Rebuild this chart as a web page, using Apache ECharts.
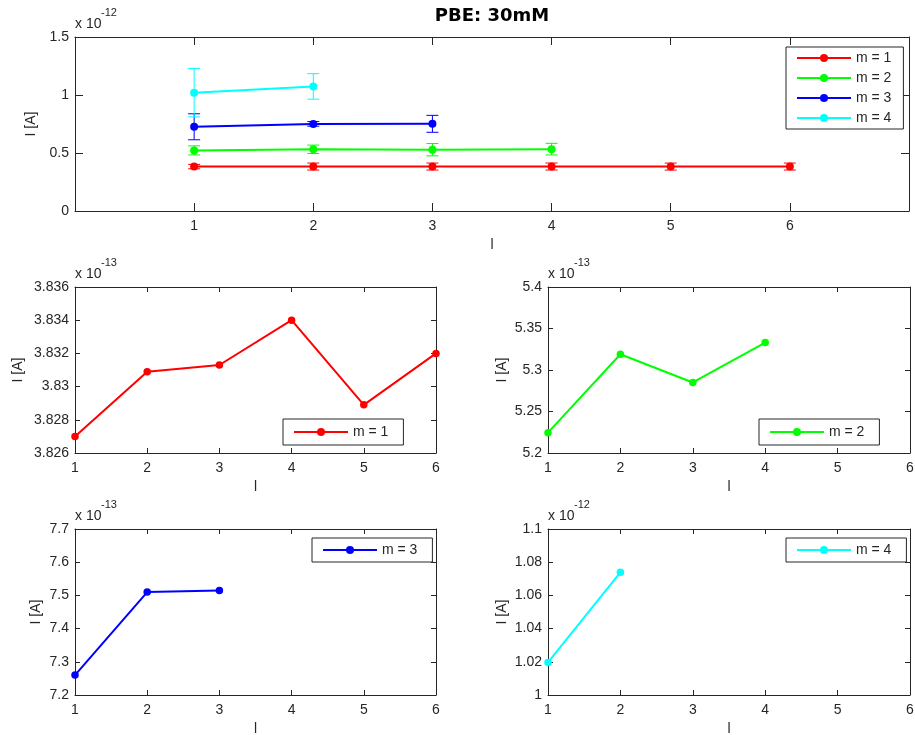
<!DOCTYPE html>
<html>
<head>
<meta charset="utf-8">
<title>PBE: 30mM</title>
<script src="https://cdn.jsdelivr.net/npm/echarts@6/dist/echarts.min.js"></script>
<style>
  html, body { margin: 0; padding: 0; background: #fff; }
  #chart { width: 915px; height: 735px; }
</style>
</head>
<body>
<div id="chart"></div>
<script>
// Measured current I [A] for each mode m, indexed by l
const lValues = [1, 2, 3, 4, 5, 6];
const m1Current = [3.8270e-13, 3.8309e-13, 3.8313e-13, 3.8340e-13, 3.8289e-13, 3.8320e-13];
const m2Current = [5.2245e-13, 5.3190e-13, 5.2850e-13, 5.3330e-13];
const m3Current = [7.2600e-13, 7.5100e-13, 7.5150e-13];
const m4Current = [1.0196e-12, 1.0739e-12];

// Standard deviation of each measurement (error bars in the overview)
const m1Std = [0.019e-12, 0.030e-12, 0.030e-12, 0.030e-12, 0.030e-12, 0.030e-12];
const m2Std = [0.039e-12, 0.036e-12, 0.053e-12, 0.050e-12];
const m3Std = [0.112e-12, 0.020e-12, 0.073e-12];
const m4Std = [0.208e-12, 0.110e-12];

const seriesNames = ['m = 1', 'm = 2', 'm = 3', 'm = 4'];
const seriesColors = ['#ff0000', '#00ff00', '#0000ff', '#00ffff'];

// Axis tick settings: [min, max, interval]
const overviewXTicks = [0, 7, 1];
const overviewYTicks = [0, 1.5, 0.5];
const detailXTicks = [1, 6, 1];
const detailYTicks = [
  [3.826, 3.836, 0.002],
  [5.2, 5.4, 0.05],
  [7.2, 7.7, 0.1],
  [1.0, 1.1, 0.02]
];
const detailExponents = [-13, -13, -13, -12];
const overviewExponent = -12;

const titleText = 'PBE: 30mM';
const xLabel = 'l';
const yLabel = 'I [A]';

const currents = [m1Current, m2Current, m3Current, m4Current];
const stds = [m1Std, m2Std, m3Std, m4Std];

const FONT = 'Liberation Sans';
const INK = '#262626';

// Panel geometry: overview on top, 2x2 detail panels below
const panels = [
  { grid: { left: 75, top: 37, width: 834, height: 174 }, x: overviewXTicks, y: overviewYTicks, exp: overviewExponent, tick: 8, yGap: 29, hideEnds: true },
  { grid: { left: 75, top: 287, width: 361, height: 166 }, x: detailXTicks, y: detailYTicks[0], exp: detailExponents[0], tick: 5, yGap: 50 },
  { grid: { left: 548, top: 287, width: 362, height: 166 }, x: detailXTicks, y: detailYTicks[1], exp: detailExponents[1], tick: 5, yGap: 39 },
  { grid: { left: 75, top: 529, width: 361, height: 166 }, x: detailXTicks, y: detailYTicks[2], exp: detailExponents[2], tick: 5, yGap: 32 },
  { grid: { left: 548, top: 529, width: 362, height: 166 }, x: detailXTicks, y: detailYTicks[3], exp: detailExponents[3], tick: 5, yGap: 39 }
];

const fmt = v => String(+(+v).toFixed(4));

const grids = [], xAxes = [], yAxes = [], graphics = [];

panels.forEach((p, i) => {
  grids.push(Object.assign({ show: false, containLabel: false, outerBoundsMode: 'none' }, p.grid));
  const lineStyle = { color: INK, width: 1 };
  const tickStyle = { inside: true, length: p.tick, lineStyle: { color: INK, width: 1 } };
  const labelStyle = { color: INK, fontFamily: FONT, fontSize: 14 };
  // bottom x axis with labels
  xAxes.push({
    type: 'value', gridIndex: i, position: 'bottom',
    min: p.x[0], max: p.x[1], interval: p.x[2],
    axisLine: { show: true, onZero: false, lineStyle },
    axisTick: tickStyle,
    axisLabel: Object.assign({ margin: 8, formatter: fmt, showMinLabel: !p.hideEnds, showMaxLabel: !p.hideEnds }, labelStyle),
    splitLine: { show: false },
    name: xLabel, nameLocation: 'middle', nameGap: 27,
    nameTextStyle: { color: INK, fontFamily: FONT, fontSize: 14 }
  });
  // top mirror x axis (ticks only)
  xAxes.push({
    type: 'value', gridIndex: i, position: 'top',
    min: p.x[0], max: p.x[1], interval: p.x[2],
    axisLine: { show: true, onZero: false, lineStyle },
    axisTick: tickStyle, axisLabel: { show: false }, splitLine: { show: false }
  });
  // left y axis with labels
  yAxes.push({
    type: 'value', gridIndex: i, position: 'left',
    min: p.y[0], max: p.y[1], interval: p.y[2],
    axisLine: { show: true, onZero: false, lineStyle },
    axisTick: tickStyle,
    axisLabel: Object.assign({ margin: 6, formatter: fmt }, labelStyle),
    splitLine: { show: false },
    name: yLabel, nameLocation: 'middle', nameGap: p.yGap,
    nameTextStyle: { color: INK, fontFamily: FONT, fontSize: 14 }
  });
  // right mirror y axis (ticks only)
  yAxes.push({
    type: 'value', gridIndex: i, position: 'right',
    min: p.y[0], max: p.y[1], interval: p.y[2],
    axisLine: { show: true, onZero: false, lineStyle },
    axisTick: tickStyle, axisLabel: { show: false }, splitLine: { show: false }
  });
  // axis multiplier "x 10^exp"
  graphics.push({
    type: 'text', left: p.grid.left, top: p.grid.top - 20,
    style: { text: 'x 10', fill: INK, font: '14px "' + FONT + '"' }
  });
  graphics.push({
    type: 'text', left: p.grid.left + 26, top: p.grid.top - 30,
    style: { text: String(p.exp), fill: INK, font: '11px "' + FONT + '"' }
  });
});

// Figure title, centred over the overview panel
graphics.push({
  type: 'text', x: 492, y: 7,
  style: { text: titleText, fill: '#000', font: 'bold 18px "DejaVu Sans"', textAlign: 'center', textVerticalAlign: 'top' }
});

const series = [];

// Overview panel: error bars + lines for every m
currents.forEach((vals, k) => {
  const scale = Math.pow(10, overviewExponent);
  const color = seriesColors[k];
  series.push({
    type: 'custom', name: seriesNames[k] + ' std', xAxisIndex: 0, yAxisIndex: 0,
    silent: true, z: 2,
    encode: { x: 0, y: 1 },
    data: vals.map((v, j) => [lValues[j], v / scale, stds[k][j] / scale]),
    renderItem: (params, api) => {
      const x = api.value(0), y = api.value(1), e = api.value(2);
      const hi = api.coord([x, y + e]);
      const lo = api.coord([x, y - e]);
      const w = 6;
      const st = { stroke: color, lineWidth: 1 };
      return {
        type: 'group',
        children: [
          { type: 'line', shape: { x1: hi[0], y1: hi[1], x2: lo[0], y2: lo[1] }, style: st },
          { type: 'line', shape: { x1: hi[0] - w, y1: hi[1], x2: hi[0] + w, y2: hi[1] }, style: st },
          { type: 'line', shape: { x1: lo[0] - w, y1: lo[1], x2: lo[0] + w, y2: lo[1] }, style: st }
        ]
      };
    }
  });
  series.push({
    type: 'line', name: seriesNames[k], xAxisIndex: 0, yAxisIndex: 0, z: 3,
    data: vals.map((v, j) => [lValues[j], v / scale]),
    symbol: 'circle', symbolSize: 8, showSymbol: true,
    lineStyle: { color, width: 2 }, itemStyle: { color },
    animation: false, emphasis: { disabled: true }
  });
});

// Detail panels: one m per panel
currents.forEach((vals, k) => {
  const scale = Math.pow(10, detailExponents[k]);
  const color = seriesColors[k];
  series.push({
    type: 'line', name: seriesNames[k], xAxisIndex: 2 * (k + 1), yAxisIndex: 2 * (k + 1), z: 3,
    data: vals.map((v, j) => [lValues[j], v / scale]),
    symbol: 'circle', symbolSize: 7.5, showSymbol: true,
    lineStyle: { color, width: 2 }, itemStyle: { color },
    animation: false, emphasis: { disabled: true }
  });
});

const legendBase = {
  orient: 'vertical', backgroundColor: '#fff', borderColor: INK, borderWidth: 1, borderRadius: 0,
  itemWidth: 54, itemHeight: 10, itemGap: 6, selectedMode: false,
  textStyle: { color: INK, fontFamily: FONT, fontSize: 14 }
};

const legends = [
  Object.assign({}, legendBase, { left: 786, top: 47, padding: [4, 12, 4, 10], data: seriesNames }),
  Object.assign({}, legendBase, { left: 283, top: 419, padding: [6, 15, 6, 10], data: [seriesNames[0]] }),
  Object.assign({}, legendBase, { left: 759, top: 419, padding: [6, 15, 6, 10], data: [seriesNames[1]] }),
  Object.assign({}, legendBase, { left: 312, top: 538, padding: [5, 15, 5, 10], data: [seriesNames[2]] }),
  Object.assign({}, legendBase, { left: 786, top: 538, padding: [5, 15, 5, 10], data: [seriesNames[3]] })
];

const chart = echarts.init(document.getElementById('chart'), null, { renderer: 'canvas' });
chart.setOption({
  backgroundColor: '#fff',
  animation: false,
  textStyle: { fontFamily: FONT },
  grid: grids,
  xAxis: xAxes,
  yAxis: yAxes,
  legend: legends,
  graphic: graphics,
  series
});
</script>
</body>
</html>
